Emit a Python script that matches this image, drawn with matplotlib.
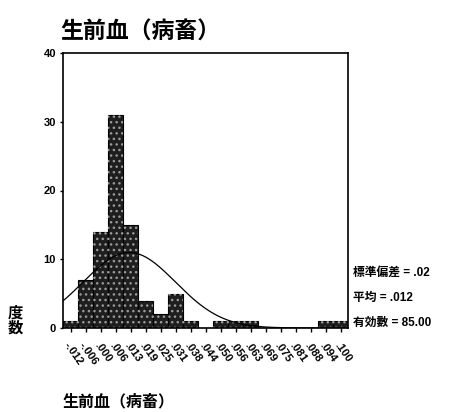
import numpy as np
import matplotlib
matplotlib.use("Agg")
import matplotlib.pyplot as plt

# Data
bin_centers = [-0.0125 + 0.00625 * k for k in range(19)]
counts = [1, 7, 14, 31, 15, 4, 2, 5, 1, 0, 1, 1, 1, 0, 0, 0, 0, 1, 1]
tick_labels = ["-.012", "-.006", ".000", ".006", ".013", ".019", ".025", ".031",
               ".038", ".044", ".050", ".056", ".063", ".069", ".075", ".081",
               ".088", ".094", ".100"]
mean_val = 0.012
std_val = 0.0193
n_val = 85
stats_lines = ["標準偏差 = .02", "平均 = .012", "有効數 = 85.00"]
title = "生前血（病畜）"
ylabel = "度\n数"
xlabel = "生前血（病畜）"

FAM = ["Liberation Sans", "Noto Sans CJK JP", "DejaVu Sans"]
plt.rcParams['font.family'] = FAM
plt.rcParams['font.weight'] = 'bold'

fig = plt.figure(figsize=(4.5, 4.12), dpi=100)
ax = fig.add_axes([63/450, 1 - 328/412, (348 - 63)/450, (328 - 53)/412])

w = 0.00625
ax.bar(bin_centers, counts, width=w, color='#1e1e1e', edgecolor='black', linewidth=0.8)
ax.bar(bin_centers, counts, width=w, color='none', edgecolor='#9a9a9a', hatch='...', linewidth=0)

xmin = bin_centers[0] - w / 2
xmax = bin_centers[-1] + w / 2
xs = np.linspace(xmin, xmax, 300)
ys = n_val * w / (std_val * np.sqrt(2 * np.pi)) * np.exp(-0.5 * ((xs - mean_val) / std_val) ** 2)
ax.plot(xs, ys, color='black', linewidth=0.9)

ax.set_xlim(xmin, xmax)
ax.set_ylim(0, 40)
ax.set_yticks([0, 10, 20, 30, 40])
ax.set_yticklabels(['0', '10', '20', '30', '40'], fontsize=8, fontweight='bold')
ax.set_xticks(bin_centers)
ax.set_xticklabels(tick_labels, rotation=-55, ha='left', va='top', rotation_mode='anchor',
                   fontsize=8, fontweight='bold')
ax.tick_params(axis='x', length=3, width=1, pad=6)
ax.tick_params(axis='y', length=2, width=1, pad=3)
for s in ax.spines.values():
    s.set_linewidth(1.2)

fig.text(60/450, 1 - 32/412, title, fontsize=16.5, fontweight='bold', va='center', ha='left')
fig.text(8/450, 1 - 321/412, ylabel, fontsize=11, fontweight='bold', va='center', ha='left',
         linespacing=1.1)
fig.text(63/450, 1 - 402/412, xlabel, fontsize=11.5, fontweight='bold', va='center', ha='left')
for i, line in enumerate(stats_lines):
    fig.text(353/450, 1 - (273 + 25 * i)/412, line, fontsize=8.5, fontweight='bold',
             va='center', ha='left')

fig.savefig("out.png", dpi=100)
